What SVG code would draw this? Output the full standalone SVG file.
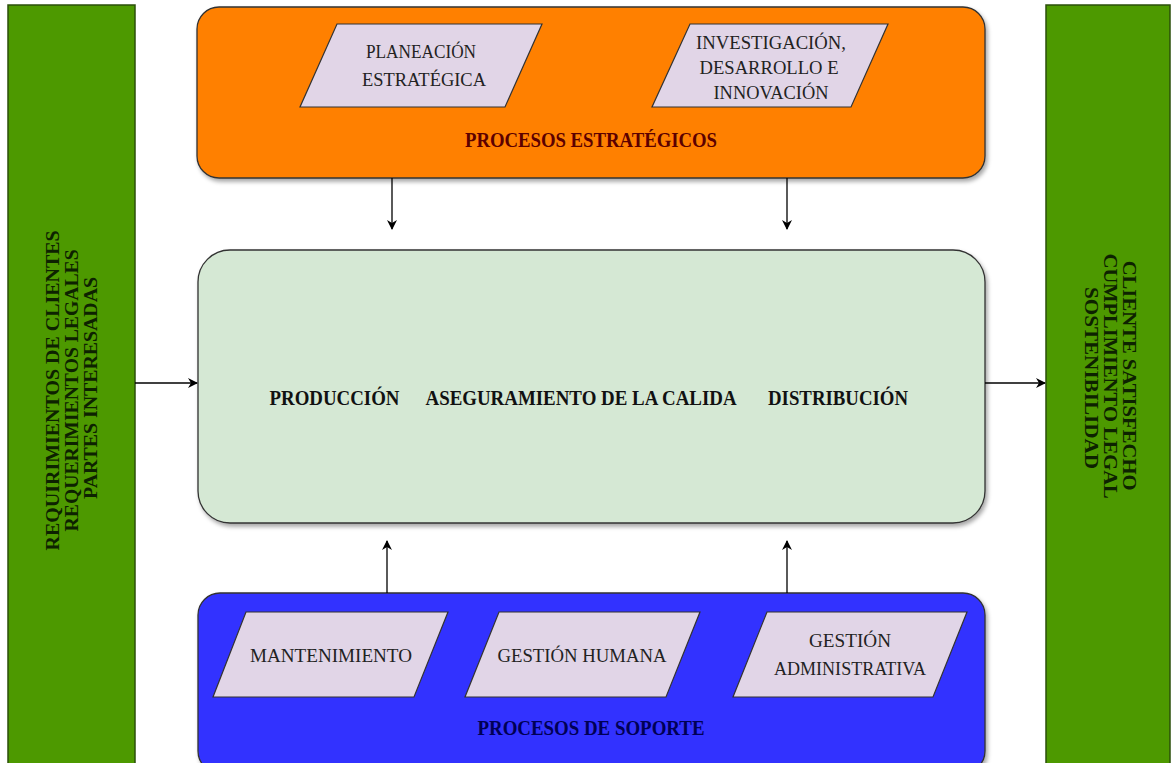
<svg xmlns="http://www.w3.org/2000/svg" width="1174" height="763" viewBox="0 0 1174 763">
<style>
.t{font-family:"Liberation Serif","Times New Roman",serif;}
.side{fill:#4d9900;stroke:#2b4f0a;stroke-width:1.5;}
.para{fill:#e1d5e7;stroke:#333;stroke-width:1.2;}
.pt{font-size:19px;fill:#222;text-anchor:middle;}
.bt{font-size:20px;font-weight:bold;text-anchor:middle;}
.st{font-size:19px;font-weight:bold;fill:#0d2200;text-anchor:middle;}
.conn{stroke:#000;stroke-width:1.3;fill:none;marker-end:url(#arr);}
</style>
<defs>
<marker id="arr" viewBox="0 0 10 10" refX="9" refY="5" markerWidth="10" markerHeight="10" markerUnits="userSpaceOnUse" orient="auto">
<path d="M0,0 L10,5 L0,10 L3,5 Z" fill="#000"/>
</marker>
<filter id="sh" x="-5%" y="-5%" width="110%" height="115%">
<feDropShadow dx="2" dy="3" stdDeviation="2" flood-color="#000" flood-opacity="0.35"/>
</filter>
</defs>
<rect width="1174" height="763" fill="#ffffff"/>

<g id="entradas">
<rect class="side" x="8" y="5" width="127" height="762"/>
<text class="t st" transform="translate(72,388) rotate(-90)">
<tspan x="0" y="-13" textLength="320" lengthAdjust="spacingAndGlyphs">REQUIRIMIENTOS DE CLIENTES</tspan>
<tspan x="0" y="6" textLength="282" lengthAdjust="spacingAndGlyphs">REQUERIMIENTOS LEGALES</tspan>
<tspan x="0" y="25" textLength="222" lengthAdjust="spacingAndGlyphs">PARTES INTERESADAS</tspan>
</text>
</g>

<g id="salidas">
<rect class="side" x="1046" y="5" width="124" height="762"/>
<text class="t st" transform="translate(1108,378) rotate(90)">
<tspan x="0" y="-15" textLength="230" lengthAdjust="spacingAndGlyphs">CLIENTE SATISFECHO</tspan>
<tspan x="0" y="4" textLength="244" lengthAdjust="spacingAndGlyphs">CUMPLIMIENTO LEGAL</tspan>
<tspan x="0" y="23" textLength="182" lengthAdjust="spacingAndGlyphs">SOSTENIBILIDAD</tspan>
</text>
</g>

<g id="estrategicos">
<rect x="197" y="7" width="788" height="171" rx="22" ry="22" fill="#ff8000" stroke="#333" stroke-width="1.3" filter="url(#sh)"/>
<text class="t bt" x="591" y="147" fill="#5c0000" textLength="252" lengthAdjust="spacingAndGlyphs">PROCESOS ESTRATÉGICOS</text>
</g>

<g id="planeacion">
<polygon class="para" points="337,24 542,24 505,107 300,107"/>
<text class="t pt" x="421" y="58" textLength="110" lengthAdjust="spacingAndGlyphs">PLANEACIÓN</text>
<text class="t pt" x="424" y="86" textLength="124" lengthAdjust="spacingAndGlyphs">ESTRATÉGICA</text>
</g>

<g id="investigacion">
<polygon class="para" points="690,24 888,24 851,107 652,107"/>
<text class="t pt" x="771" y="49" textLength="150" lengthAdjust="spacingAndGlyphs">INVESTIGACIÓN,</text>
<text class="t pt" x="769" y="74" textLength="139" lengthAdjust="spacingAndGlyphs">DESARROLLO E</text>
<text class="t pt" x="771" y="99" textLength="115" lengthAdjust="spacingAndGlyphs">INNOVACIÓN</text>
</g>

<g id="misionales">
<rect x="198" y="250" width="787" height="273" rx="32" ry="32" fill="#d5e8d4" stroke="#333" stroke-width="1.3" filter="url(#sh)"/>
<text class="t bt" y="405" fill="#111">
<tspan x="337" textLength="130" lengthAdjust="spacingAndGlyphs">PRODUCCIÓN</tspan>
<tspan x="583" textLength="310" lengthAdjust="spacingAndGlyphs">ASEGURAMIENTO DE LA CALIDA</tspan>
<tspan x="838" textLength="140" lengthAdjust="spacingAndGlyphs">DISTRIBUCIÓN</tspan>
</text>
</g>

<g id="soporte">
<rect x="198" y="593" width="787" height="180" rx="22" ry="22" fill="#3333ff" stroke="#333" stroke-width="1.3" filter="url(#sh)"/>
<text class="t bt" x="591" y="735" fill="#000055" textLength="227" lengthAdjust="spacingAndGlyphs">PROCESOS DE SOPORTE</text>
</g>

<g id="mantenimiento">
<polygon class="para" points="246,612 448,612 414,697 213,697"/>
<text class="t pt" x="331" y="662" textLength="162" lengthAdjust="spacingAndGlyphs">MANTENIMIENTO</text>
</g>

<g id="gestion-humana">
<polygon class="para" points="499,612 700,612 666,697 465,697"/>
<text class="t pt" x="582" y="662" textLength="169" lengthAdjust="spacingAndGlyphs">GESTIÓN HUMANA</text>
</g>

<g id="gestion-administrativa">
<polygon class="para" points="767,612 967,612 933,697 733,697"/>
<text class="t pt" x="850" y="647" textLength="82" lengthAdjust="spacingAndGlyphs">GESTIÓN</text>
<text class="t pt" x="850" y="675" textLength="152" lengthAdjust="spacingAndGlyphs">ADMINISTRATIVA</text>
</g>

<g id="connectors">
<line class="conn" x1="135" y1="383" x2="197" y2="383"/>
<line class="conn" x1="985" y1="383" x2="1045" y2="383"/>
<line class="conn" x1="392" y1="178" x2="392" y2="229"/>
<line class="conn" x1="787" y1="178" x2="787" y2="229"/>
<line class="conn" x1="387" y1="593" x2="387" y2="541"/>
<line class="conn" x1="787" y1="593" x2="787" y2="541"/>
</g>
</svg>
